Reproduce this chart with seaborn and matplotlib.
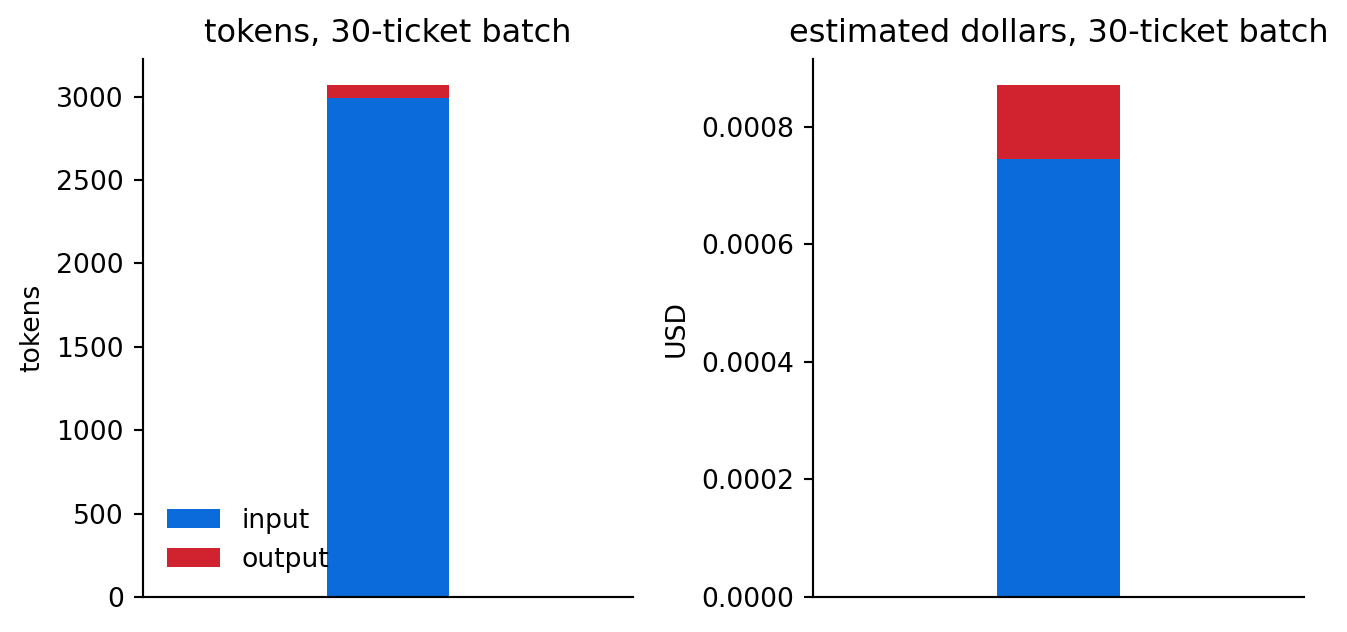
import matplotlib
matplotlib.use("Agg")
import matplotlib.pyplot as plt
import matplotlib.ticker as mticker
import seaborn as sns
import pandas as pd

batch = ["30-ticket batch"]
input_tokens = [2990]
output_tokens = [82]
input_usd = [0.000745]
output_usd = [0.000127]

BLUE = "#0b6bdb"
RED = "#d0222f"

FS = 9.6
plt.rcParams.update({
    "font.family": ["DejaVu Sans"],
    "font.size": FS,
    "axes.linewidth": 0.77,
    "ytick.major.width": 0.77,
    "ytick.major.size": 3.36,
})

df = pd.DataFrame({
    "batch": batch,
    "input_tokens": input_tokens,
    "total_tokens": [i + o for i, o in zip(input_tokens, output_tokens)],
    "input_usd": input_usd,
    "total_usd": [i + o for i, o in zip(input_usd, output_usd)],
})

fig = plt.figure(figsize=(6.735, 3.16), dpi=200)
ax1 = fig.add_axes([0.1062, 0.0554, 0.3637, 0.8512])
ax2 = fig.add_axes([0.6036, 0.0554, 0.3645, 0.8512])

for ax, inp, tot, ylab, title in [
    (ax1, "input_tokens", "total_tokens", "tokens", "tokens, 30-ticket batch"),
    (ax2, "input_usd", "total_usd", "USD", "estimated dollars, 30-ticket batch"),
]:
    # stacked bar: total in red, input drawn over it in blue
    sns.barplot(data=df, x="batch", y=tot, color=RED, width=0.25,
                saturation=1, linewidth=0, edgecolor="none",
                label="output", ax=ax)
    sns.barplot(data=df, x="batch", y=inp, color=BLUE, width=0.25,
                saturation=1, linewidth=0, edgecolor="none",
                label="input", ax=ax)
    ax.set_xlabel("")
    ax.set_xticks([])
    ax.set_ylabel(ylab, fontsize=FS)
    ax.set_title(title, fontsize=11.52)
    ax.tick_params(axis="y", labelsize=FS)
    sns.despine(ax=ax)

ax2.yaxis.set_major_formatter(mticker.FormatStrFormatter("%.4f"))
ax2.set_yticks([0, 0.0002, 0.0004, 0.0006, 0.0008])

h, l = ax1.get_legend_handles_labels()
ax1.legend(h[::-1], l[::-1], loc="lower left", frameon=False, fontsize=FS)
if ax2.get_legend():
    ax2.get_legend().remove()

fig.savefig("out.png", dpi=200)
